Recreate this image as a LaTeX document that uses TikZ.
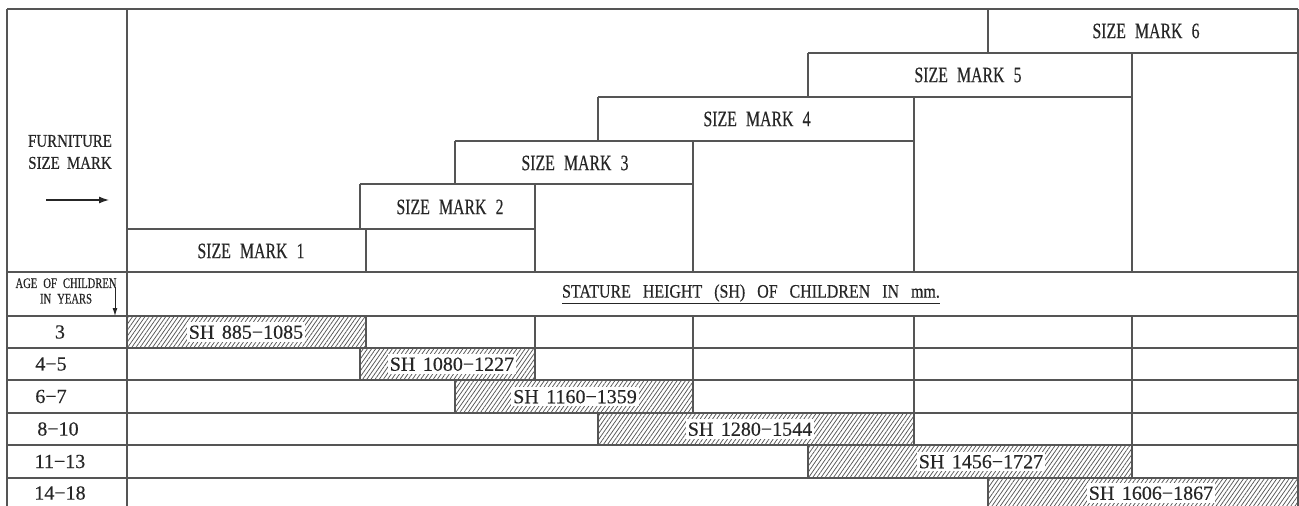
\documentclass[tikz,border=0pt]{standalone}
\usepackage{fontspec}
\setmainfont{Liberation Serif}[FakeBold=0.4]
\newfontfamily\fsm{Liberation Serif}[FakeStretch=0.72,WordSpace=2.3,FakeBold=0.4]
\newfontfamily\ffu{Liberation Serif}[FakeStretch=0.83,WordSpace=1.9,FakeBold=0.4]
\newfontfamily\fag{Liberation Serif}[FakeStretch=0.73,WordSpace=2.3,FakeBold=0.4]
\newfontfamily\fst{Liberation Serif}[FakeStretch=0.84,WordSpace=3.0,FakeBold=0.4]
\newfontfamily\fsh{Liberation Serif}[WordSpace=1.5,FakeBold=0.4]
\usetikzlibrary{arrows.meta,patterns.meta}
\definecolor{ln}{HTML}{555555}
\definecolor{tx}{HTML}{262626}
\tikzset{
  grid/.style={draw=ln, line width=1.2pt},
  hatch/.style={pattern={Lines[angle=55,distance=3.4pt,line width=0.75pt]}, pattern color=ln},
  smlabel/.style={text=tx, inner sep=0pt, font=\fsm\fontsize{22}{24}\selectfont},
  furnlabel/.style={text=tx, inner sep=0pt, align=center, font=\ffu\fontsize{18}{20}\selectfont},
  agelabel/.style={text=tx, inner sep=0pt, align=center, font=\fag\fontsize{14.5}{14.5}\selectfont},
  stlabel/.style={text=tx, inner sep=0pt, font=\fst\fontsize{19}{21}\selectfont},
  rowlabel/.style={text=tx, inner sep=0pt, font=\fontsize{20}{22}\selectfont},
  shlabel/.style={text=tx, fill=white, inner xsep=2pt, inner ysep=3pt, text height=13.5pt, text depth=0pt, font=\fsh\fontsize{20}{22}\selectfont},
  pointer/.style={draw=tx, line width=1.3pt, -{Latex[length=10pt,width=7pt]}}
}
\begin{document}
\begin{tikzpicture}[x=1pt,y=1pt]
\useasboundingbox (0,0) rectangle (1299,-506);
\clip (0,0) rectangle (1299,-506);
% hatched stature bars
\draw[grid,hatch] (127,-316) rectangle (366,-348);
\draw[grid,hatch] (360,-348) rectangle (535,-380);
\draw[grid,hatch] (455,-380) rectangle (693,-413);
\draw[grid,hatch] (598,-413) rectangle (914,-445);
\draw[grid,hatch] (808,-445) rectangle (1132,-478);
\draw[grid,hatch] (988,-478) rectangle (1298,-515);
% outer frame and left column
\draw[grid] (7,-9) -- (1298,-9);
\draw[grid] (7,-9) -- (7,-510);
\draw[grid] (127,-9) -- (127,-510);
\draw[grid] (1298,-9) -- (1298,-510);
% full width rows
\foreach \yy in {272,316,348,380,413,445,478}
  \draw[grid] (7,-\yy) -- (1298,-\yy);
% size mark staircase
\draw[grid] (808,-53) -- (1298,-53);
\draw[grid] (598,-97) -- (1132,-97);
\draw[grid] (455,-141) -- (914,-141);
\draw[grid] (360,-184) -- (693,-184);
\draw[grid] (127,-229) -- (535,-229);
\draw[grid] (988,-9) -- (988,-53);
\draw[grid] (808,-53) -- (808,-97);
\draw[grid] (598,-97) -- (598,-141);
\draw[grid] (455,-141) -- (455,-184);
\draw[grid] (360,-184) -- (360,-229);
\draw[grid] (1132,-53) -- (1132,-272);
\draw[grid] (914,-97) -- (914,-272);
\draw[grid] (693,-141) -- (693,-272);
\draw[grid] (535,-184) -- (535,-272);
\draw[grid] (366,-229) -- (366,-272);
\draw[grid] (1132,-316) -- (1132,-478);
\draw[grid] (914,-316) -- (914,-445);
\draw[grid] (693,-316) -- (693,-413);
\draw[grid] (535,-316) -- (535,-380);
% header labels
\node[furnlabel] (furn) at (70,-152) {FURNITURE\\[2pt]SIZE MARK};
\coordinate (fa1) at (46,-200);
\coordinate (fa2) at (109,-200);
\draw[pointer] (fa1) -- (fa2);
\node[smlabel] (sm1) at (251,-251) {SIZE MARK 1};
\node[smlabel] (sm2) at (450,-207) {SIZE MARK 2};
\node[smlabel] (sm3) at (575,-163) {SIZE MARK 3};
\node[smlabel] (sm4) at (757,-119) {SIZE MARK 4};
\node[smlabel] (sm5) at (968,-75) {SIZE MARK 5};
\node[smlabel] (sm6) at (1146,-31) {SIZE MARK 6};
\node[agelabel] (age) at (66,-291) {AGE OF CHILDREN\\[1pt]IN YEARS};
\coordinate (da1) at (115,-287);
\coordinate (da2) at (115,-316);
\draw[pointer, line width=1pt, -{Latex[length=8pt,width=5pt]}] (da1) -- (da2);
\node[stlabel] (st) at (751,-294) {\underline{STATURE HEIGHT (SH) OF CHILDREN IN mm.}};
% age rows
\node[rowlabel] (r1) at (60,-332) {3};
\node[rowlabel] (r2) at (51,-364) {4−5};
\node[rowlabel] (r3) at (51,-396.5) {6−7};
\node[rowlabel] (r4) at (58,-429) {8−10};
\node[rowlabel] (r5) at (60,-461.5) {11−13};
\node[rowlabel] (r6) at (60,-493) {14−18};
% stature labels
\node[shlabel] (sh1) at (246,-332) {SH 885−1085};
\node[shlabel] (sh2) at (452,-364) {SH 1080−1227};
\node[shlabel] (sh3) at (575,-396.5) {SH 1160−1359};
\node[shlabel] (sh4) at (750,-429) {SH 1280−1544};
\node[shlabel] (sh5) at (981,-461.5) {SH 1456−1727};
\node[shlabel] (sh6) at (1151,-493) {SH 1606−1867};
\end{tikzpicture}
\end{document}
